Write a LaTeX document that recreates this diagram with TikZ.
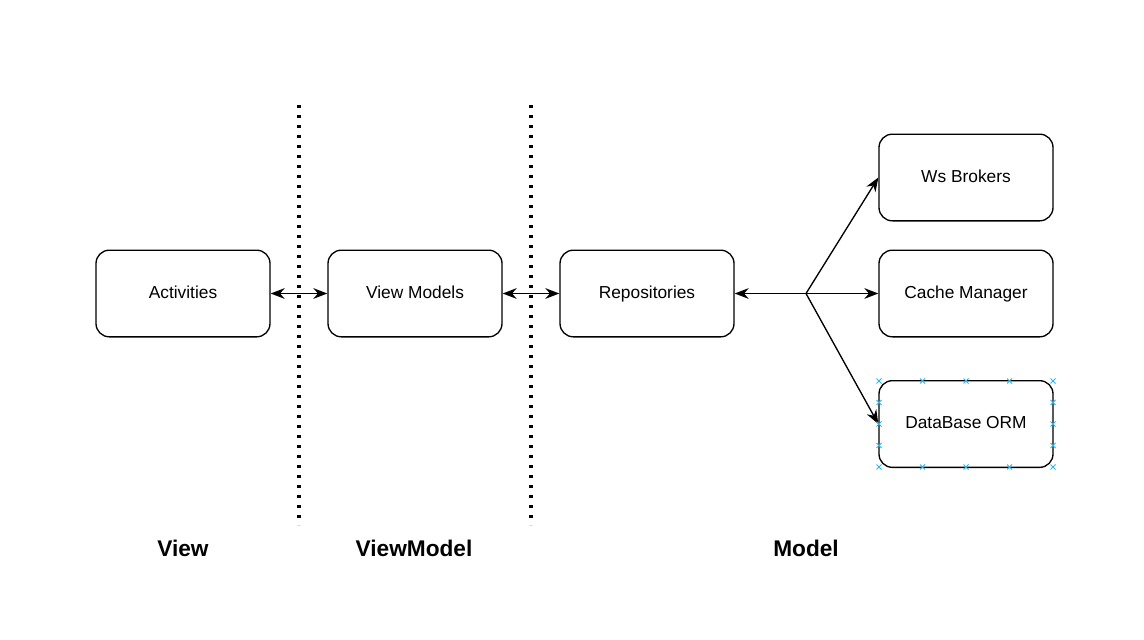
\documentclass[tikz,border=0pt]{standalone}
\usepackage{fontspec}
\setmainfont{Liberation Sans}
\usepackage{xcolor}
\usetikzlibrary{arrows.meta,positioning}
\definecolor{handle}{HTML}{29B6F2}

\begin{document}
\begin{tikzpicture}[x=0.75pt, y=-0.75pt, >={Stealth[length=10.5pt,width=8pt]}]
    % Define styles
    \tikzstyle{box} = [draw, rounded corners=10pt, line width=1pt, minimum width=130.5pt, minimum height=65pt, text height=1.38ex, text depth=0pt, font=\fontsize{13}{15}\selectfont]
    \tikzstyle{layer} = [font=\fontsize{17}{20}\selectfont\bfseries]
    \tikzstyle{divider} = [line width=2.4pt, dash pattern=on 2.4pt off 5.1pt]

    \useasboundingbox (0,0) rectangle (1144,639);

    % Nodes
    \node[box] (activities) at (183,293.5) {Activities};
    \node[box] (viewmodels) at (415,293.5) {View Models};
    \node[box] (repositories) at (647,293.5) {Repositories};
    \node[box] (wsbrokers) at (966,177.5) {Ws Brokers};
    \node[box] (cachemanager) at (966,293.5) {Cache Manager};
    \node[box] (databaseorm) at (966,424) {DataBase ORM};
    \coordinate (branch) at (806,293.5);

    % Layer dividers
    \draw[divider] (299,105) -- (299,525);
    \draw[divider] (531,105) -- (531,525);

    % Arrows
    \draw[<->, line width=1pt] (activities) -- (viewmodels);
    \draw[<->, line width=1pt] (viewmodels) -- (repositories);
    \draw[->, line width=1pt] (branch) -- (repositories);
    \draw[->, line width=1pt] (branch) -- (wsbrokers.west);
    \draw[->, line width=1pt] (branch) -- (cachemanager);
    \draw[->, line width=1pt] (branch) -- (databaseorm.west);

    % Selection handles
    \foreach \x in {879,922.5,966,1009.5,1053}
        \foreach \y in {381,467}
            \draw[handle, line width=0.6pt] (\x-2.5,\y-2.5) -- (\x+2.5,\y+2.5) (\x-2.5,\y+2.5) -- (\x+2.5,\y-2.5);
    \foreach \y in {402.5,424,445.5}
        \foreach \x in {879,1053}
            \draw[handle, line width=0.6pt] (\x-2.5,\y-2.5) -- (\x+2.5,\y+2.5) (\x-2.5,\y+2.5) -- (\x+2.5,\y-2.5);

    % Layer labels
    \node[layer] (viewlabel) at (183,548) {View};
    \node[layer] (viewmodellabel) at (414,548) {ViewModel};
    \node[layer] (modellabel) at (806,548) {Model};
\end{tikzpicture}
\end{document}
